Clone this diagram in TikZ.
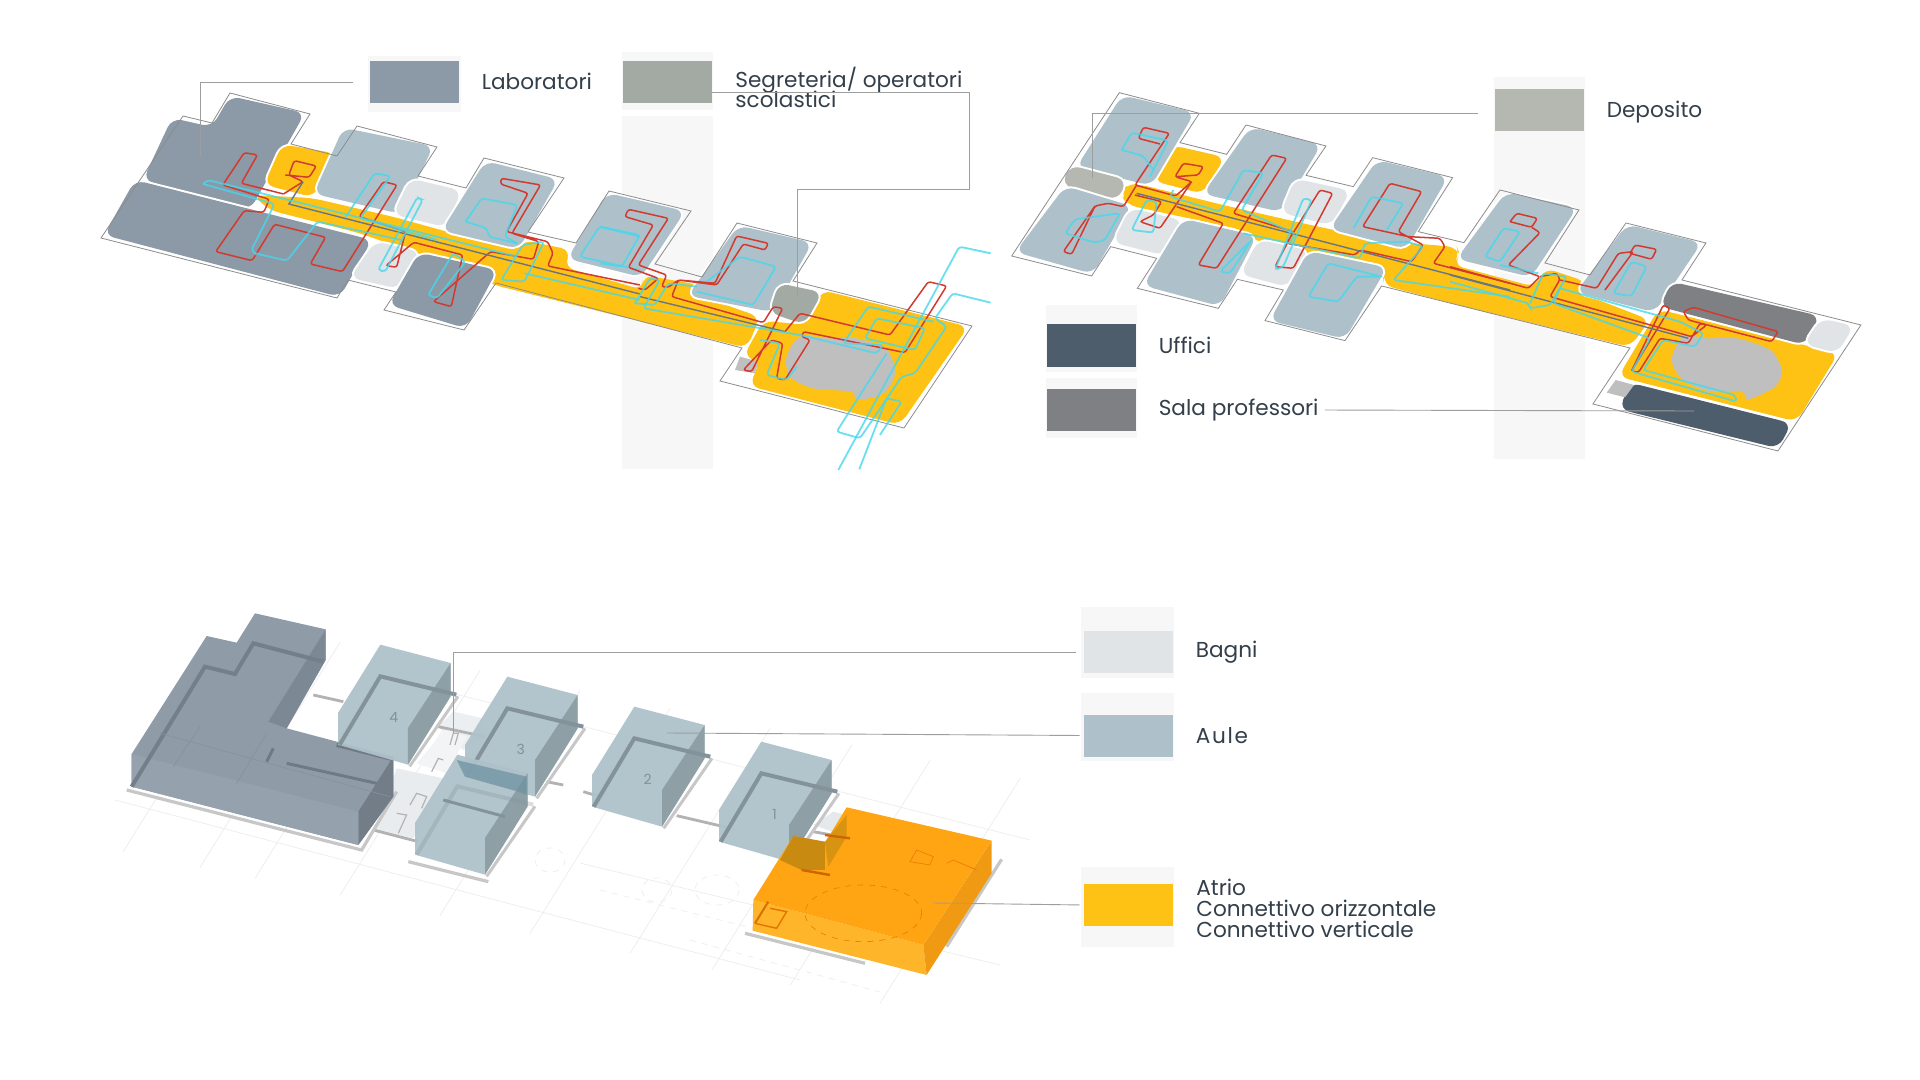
\documentclass[tikz,border=0pt]{standalone}
\usepackage{fontspec}
\setmainfont{Poppins}
\usetikzlibrary{positioning,calc}
\definecolor{labcol}{HTML}{8C99A6}
\definecolor{aulacol}{HTML}{AEC1CA}
\definecolor{bagcol}{HTML}{E0E4E7}
\definecolor{segcol}{HTML}{A3A9A3}
\definecolor{depcol}{HTML}{B5B8B0}
\definecolor{uffcol}{HTML}{4E5D6C}
\definecolor{salacol}{HTML}{7F8084}
\definecolor{atrcol}{HTML}{FDC214}
\definecolor{halocol}{HTML}{F7F7F7}
\definecolor{inkcol}{HTML}{333F4A}
\definecolor{redcol}{HTML}{D23A30}
\definecolor{cyancol}{HTML}{45D8EC}
\newcommand\legfont{\fontsize{10.8}{10.4}\selectfont\lineskiplimit=-10pt\relax}
\tikzset{
  frA/.style={shift={(80,40)},xscale=.357,yscale=.3333},
  frB/.style={shift={(600,180)},scale=.3333},
  frC/.style={shift={(1010,70)},scale=.3333},
  frD/.style={shift={(1450,210)},scale=.3333},
  room/.style={rounded corners=5pt,preaction={draw=white,line width=2pt}},
  outl/.style={draw=black!45,line width=.4pt},
  redl/.style={draw=redcol,line width=.75pt,rounded corners=1.2pt},
  darkl/.style={draw=uffcol!85,line width=.7pt},
  cyanl/.style={draw=cyancol,line width=.9pt,rounded corners=1.5pt,draw opacity=.8},
  leader/.style={draw=black!38,line width=.45pt},
  swatch/.style={inner sep=0pt,minimum width=44.5pt,minimum height=21pt},
  legtext/.style={inner sep=0pt,text=inkcol,font=\legfont,align=left},
  gridl/.style={draw=black!7,line width=.35pt},
  basel/.style={draw=black!22,line width=1.6pt},
  wallk/.style={draw=black!30,line width=1.4pt}
}
% room from its four rounded extremes: corners pushed out along the diagonals
\newcommand\quadroom[5]{\path[room,fill=#1] ($(#4)!1.05!(#2)$) -- ($(#5)!1.05!(#3)$) -- ($(#2)!1.05!(#4)$) -- ($(#3)!1.05!(#5)$) -- cycle;}
\newcommand\aulablock[4]{
  \begin{scope}[shift={(#1,#2)},scale=.3333]
    \draw[basel,line width=1.5pt] (215,160) -- (360,-50);
    \fill[aulacol,fill opacity=.95] (0,0) -- (127,-205) -- (338,-150) -- (338,-50) -- (210,155) -- (0,95) -- cycle;
    \fill[black!20!aulacol,fill opacity=.9] (210,45) -- (338,-150) -- (338,-50) -- (210,155) -- cycle;
    \draw[draw=black!24!aulacol,line width=2pt,draw opacity=#4] (5,95) -- (127,-110) -- (355,-55);
    \node[text=black!25!aulacol,font=\fontsize{7}{7}\selectfont,inner sep=0pt] at (167,12) {#3};
  \end{scope}
}
\begin{document}
\begin{tikzpicture}[x=.5pt,y=-.5pt]
\useasboundingbox (0,0) rectangle (1920,1080);
\fill[white] (0,0) rectangle (1920,1080);
% legend columns
\fill[halocol] (622,52) rectangle (713,469);
\fill[white] (622,110) rectangle (713,116);
\fill[halocol] (1494,77) rectangle (1585,459);
\fill[halocol] (368,56) rectangle (461,112);
\fill[halocol] (1046,305) rectangle (1137,372);
\fill[halocol] (1046,378) rectangle (1137,438);
\fill[halocol] (1081,607) rectangle (1174,678);
\fill[halocol] (1081,693) rectangle (1174,761);
\fill[halocol] (1081,867) rectangle (1174,947);
% plan A
\path[room,fill=labcol] (172,118) -- (212,127) -- (230,96) -- (305,113) -- (250,210) -- (143,180) -- cycle;
\path[room,fill=labcol] (135,180) -- (372,240) -- (340,297) -- (104,235) -- cycle;
\fill[atrcol,rounded corners=5pt] (253,195) -- (312,198) -- (394,217) -- (448,232) -- (517,248) -- (523,240) -- (571,250) -- (564,267) -- (643,290) -- (643,275) -- (700,285) -- (692,293) -- (760,317) -- (747,348) -- (494,285) -- (416,253) -- (359,233) -- (269,210) -- cycle;
\begin{scope}[frA]
  \quadroom{atrcol}{570,320}{710,345}{650,465}{525,430}
  \quadroom{aulacol}{745,275}{975,325}{890,510}{670,455}
  \quadroom{bagcol}{930,422}{1060,455}{1020,555}{885,520}
  \quadroom{aulacol}{1140,375}{1325,425}{1225,615}{1028,565}
  \quadroom{aulacol}{1480,470}{1680,520}{1568,700}{1380,650}
  \quadroom{bagcol}{830,610}{945,640}{890,740}{765,710}
  \quadroom{labcol}{955,648}{1155,695}{1075,855}{878,790}
\end{scope}
\begin{scope}[frB]
  \fill[atrcol,rounded corners=5pt] (490,422) -- (620,435) -- (665,330) -- (1105,440) -- (900,735) -- (448,618) -- (480,545) -- (430,530) -- cycle;
  \quadroom{aulacol}{420,148}{620,195}{515,385}{280,340}
  \quadroom{segcol}{540,315}{660,340}{610,428}{515,395}
  \fill[black!25] (420,530) -- (475,545) -- (465,580) -- (405,570) -- cycle;
  \fill[black!25] plot[smooth cycle] coordinates {(600,470) (680,475) (770,475) (860,510) (885,580) (850,640) (770,660) (755,635) (640,625) (570,590) (560,530)};
\end{scope}
\draw[outl] (101,238) -- (183,116) -- (212,123) -- (230,93) -- (310,114) -- (291,144) -- (337,156) -- (357,126) -- (437,147) -- (418,176) -- (466,188) -- (484,158) -- (564,178) -- (528,232) -- (576,243) -- (609,191) -- (691,211) -- (655,264) -- (702,277) -- (737,223) -- (817,243) -- (793,281) -- (972,326) -- (904,428) -- (720,381) -- (742,348) -- (496,283) -- (464,330) -- (384,310) -- (396,292) -- (348,280) -- (337,298) -- cycle;
\begin{scope}[frA]
  \draw[redl] (570,462) -- (452,430) -- (497,345) -- (460,338) -- (400,435) -- (530,478) -- (515,517) -- (460,512) -- (380,635) -- (482,662) -- (545,553) -- (688,592) -- (645,672) -- (735,695) -- (888,435) -- (850,425) -- (782,530) -- (912,575) -- (887,682) -- (857,677) -- (935,607) -- (1072,645) -- (1040,800) -- (990,785) -- (1150,635) -- (1270,658) -- (1285,605) -- (1210,580) -- (1290,435) -- (1180,415) -- (1178,432) -- (1255,460) -- (1195,575) -- (1310,605) -- (1325,640) -- (1310,678) -- (1568,735);
  \draw[redl] (570,462) -- (625,425) -- (585,405) -- (600,362) -- (662,378) -- (642,412) -- (575,405);
  \draw[darkl] (625,425) -- (585,492) -- (1568,762);
  \draw[cyanl] (345,432) -- (358,420) -- (1225,650);
  \draw[cyanl] (345,432) -- (545,492) -- (480,630) -- (490,640) -- (580,662) -- (665,545) -- (900,600);
  \draw[cyanl] (745,530) -- (825,400) -- (870,408) -- (785,535) -- (1000,600);
  \draw[cyanl] (835,690) -- (945,472) -- (960,480) -- (855,695) -- cycle;
  \draw[cyanl] (975,765) -- (1045,640) -- (1080,665) -- (1000,775) -- cycle;
  \draw[cyanl] (1080,545) -- (1125,475) -- (1225,495) -- (1190,590) -- (1225,610);
  \draw[cyanl] (1080,545) -- (1140,565) -- (1145,590) -- (1225,610);
  \draw[cyanl] (1180,720) -- (1240,615) -- (1300,605) -- (1245,725) -- cycle;
  \draw[cyanl] (1245,700) -- (1568,780);
  \draw[cyanl] (1568,590) -- (1455,560) -- (1400,650) -- (1568,690);
\end{scope}
\begin{scope}[frB]
  \draw[redl] (115,325) -- (135,330) -- (175,295) -- (85,262) -- (160,135) -- (75,110) -- (85,88) -- (205,115) -- (115,255) -- (200,285) -- (185,320) -- (205,322) -- (235,300) -- (345,310) -- (410,168) -- (505,190) -- (495,210) -- (430,192) -- (350,315) -- (235,300) -- (215,350) -- (490,428) -- (520,380) -- (548,385) -- (455,575) -- (430,570) -- (515,480) -- (548,490) -- (530,595) -- (555,600) -- (630,480) -- (605,470) -- (610,455) -- (915,518) -- (1040,318) -- (985,305) -- (870,465) -- (600,400) -- (555,455);
  \draw[darkl] (120,350) -- (555,455);
  \draw[cyanl] (0,250) -- (65,260) -- (120,165) -- (0,140);
  \draw[cyanl] (290,335) -- (460,375) -- (528,260) -- (420,230) -- (320,305);
  \draw[cyanl] (105,370) -- (165,375) -- (205,310) -- (290,320);
  \draw[cyanl] (105,370) -- (150,295) -- (180,300) -- (130,385) -- (600,465) -- (830,520) -- (850,495) -- (730,490) -- (805,380) -- (1000,425);
  \draw[cyanl] (480,480) -- (540,490) -- (500,585) -- (560,600) -- (590,560);
  \draw[cyanl] (795,475) -- (830,415) -- (975,445) -- (945,510) -- cycle;
  \draw[cyanl] (1172,220) -- (1078,200) -- (715,870);
  \draw[cyanl] (1172,368) -- (1058,340) -- (1005,415) -- (1040,440) -- (945,580) -- (905,590) -- (780,775) -- (710,755) -- (860,520);
  \draw[cyanl] (778,868) -- (860,655) -- (905,665) -- (840,765);
\end{scope}
% plan B
\fill[atrcol,rounded corners=5pt] (1120,193) -- (1130,182) -- (1223,205) -- (1297,222) -- (1357,235) -- (1408,243) -- (1457,247) -- (1460,255) -- (1453,265) -- (1535,287) -- (1545,268) -- (1587,282) -- (1578,292) -- (1650,320) -- (1630,347) -- (1450,303) -- (1383,285) -- (1385,273) -- (1253,240) -- (1243,230) -- (1127,205) -- cycle;
\begin{scope}[frC]
  \quadroom{atrcol}{490,232}{635,265}{575,365}{440,330}
  \quadroom{aulacol}{340,88}{538,135}{420,335}{215,285}
  \path[room,fill=depcol] (180,285) -- (350,330) -- (325,390) -- (155,345) -- cycle;
  \quadroom{aulacol}{170,360}{350,415}{245,600}{32,540}
  \quadroom{bagcol}{365,420}{510,455}{460,550}{318,515}
  \quadroom{aulacol}{725,183}{918,230}{810,415}{595,365}
  \quadroom{bagcol}{860,332}{1012,365}{960,460}{822,425}
  \quadroom{aulacol}{1105,282}{1298,328}{1185,525}{975,470}
  \quadroom{aulacol}{525,458}{725,505}{625,697}{415,640}
  \quadroom{bagcol}{750,515}{888,545}{830,645}{700,610}
  \quadroom{aulacol}{900,555}{1115,600}{1000,795}{795,745}
\end{scope}
\begin{scope}[frD]
  \quadroom{aulacol}{171,-42}{365,0}{240,190}{36,140}
  \quadroom{aulacol}{535,55}{738,105}{610,295}{395,240}
  \fill[atrcol,rounded corners=5pt] (625,298) -- (1165,430) -- (1040,635) -- (505,500) -- cycle;
  \path[room,fill=salacol] (665,215) -- (1110,318) -- (1065,405) -- (630,290) -- cycle;
  \quadroom{bagcol}{1115,330}{1205,350}{1160,425}{1068,400}
  \path[room,fill=uffcol] (540,518) -- (1025,640) -- (985,715) -- (508,598) -- cycle;
  \fill[black!25] (497,510) -- (552,525) -- (525,562) -- (470,548) -- cycle;
  \fill[black!25] plot[smooth cycle] coordinates {(700,380) (775,385) (860,385) (960,420) (995,480) (975,530) (895,568) (875,545) (780,545) (700,510) (665,450)};
\end{scope}
\begin{scope}[frC]
  \draw[outl] (5,558) -- (328,68) -- (568,130) -- (510,218) -- (650,253) -- (708,165) -- (948,228) -- (888,316) -- (1030,350) -- (1088,263) -- (1328,323) -- (1225,485) -- (1362,518) -- (1470,360) -- (1707,420) -- (1605,579) -- (1740,615) -- (1848,459) -- (2088,519) -- (2016,630) -- (2553,765) -- (2304,1143) -- (1749,1002) -- (1860,834) -- (1115,648) -- (1005,812) -- (765,752) -- (820,660) -- (682,628) -- (625,715) -- (382,655) -- (440,565) -- (302,530) -- (245,618) -- cycle;
  \draw[redl] (450,222) -- (385,205) -- (400,172) -- (478,190) -- (375,345) -- (497,378) -- (545,335) -- (495,320) -- (520,280) -- (580,290) -- (565,315) -- (498,320);
  \draw[redl] (380,345) -- (340,410) -- (295,400) -- (255,408) -- (185,553) -- (160,545) -- (255,408);
  \draw[redl] (375,375) -- (455,395) -- (430,435) -- (390,455) -- (450,475) -- (545,335);
  \draw[redl] (500,410) -- (640,460) -- (565,585) -- (620,595) -- (830,265) -- (785,255) -- (670,430) -- (850,485) -- (795,590) -- (850,595) -- (968,370) -- (930,360) -- (830,520) -- (1035,555) -- (1050,540) -- (1205,575) -- (1240,525) -- (1165,485) -- (1235,365) -- (1140,340) -- (1058,470) -- (1195,500) -- (1290,505) -- (1305,530) -- (1270,580) -- (1500,640);
  \draw[darkl] (380,370) -- (1500,660);
  \draw[cyanl] (335,240) -- (365,188) -- (475,212) -- (420,320);
  \draw[cyanl] (335,240) -- (400,258) -- (430,300);
  \draw[cyanl] (165,490) -- (195,448) -- (330,430) -- (285,510) -- (255,518) -- cycle;
  \draw[cyanl] (365,480) -- (410,390) -- (440,395) -- (430,488) -- cycle;
  \draw[cyanl] (490,360) -- (480,380) -- (630,425) -- (700,300) -- (760,310) -- (695,420) -- (855,490) -- (840,520);
  \draw[cyanl] (795,600) -- (880,385) -- (905,390) -- (820,590) -- cycle;
  \draw[cyanl] (630,605) -- (725,510) -- (660,610) -- cycle;
  \draw[cyanl] (1030,475) -- (1085,380) -- (1180,400) -- (1130,480);
  \draw[cyanl] (895,680) -- (955,580) -- (1115,620) -- (1040,620) -- (985,695) -- cycle;
  \draw[cyanl] (700,490) -- (1050,565) -- (1065,520) -- (1190,515) -- (1240,530) -- (1150,630) -- (1500,680);
\end{scope}
\begin{scope}[frD]
  \draw[redl] (180,35) -- (200,10) -- (262,25) -- (245,52) -- (180,35);
  \draw[redl] (245,52) -- (270,68) -- (175,165) -- (270,200) -- (235,235) -- (0,170);
  \draw[redl] (270,200) -- (320,190) -- (330,208) -- (300,260) -- (725,380) -- (770,345) -- (750,340) -- (715,400) -- (630,385) -- (565,488) -- (545,482) -- (660,295) -- (640,285) -- (545,482);
  \draw[redl] (700,305) -- (730,292) -- (985,365) -- (965,395) -- (715,330) -- cycle;
  \draw[redl] (330,210) -- (440,235) -- (505,130) -- (550,125) -- (465,240);
  \draw[redl] (540,130) -- (555,105) -- (620,118) -- (605,148) -- (540,130);
  \draw[darkl] (0,195) -- (715,385);
  \draw[cyanl] (105,140) -- (160,55) -- (210,65) -- (150,155) -- cycle;
  \draw[cyanl] (150,165) -- (265,190);
  \draw[cyanl] (490,250) -- (545,155) -- (590,170) -- (545,258) -- cycle;
  \draw[cyanl] (0,215) -- (235,280) -- (240,295) -- (300,285) -- (350,200) -- (280,190) -- (240,280);
  \draw[cyanl] (330,235) -- (310,280) -- (600,385) -- (545,485) -- (860,575) -- (855,555) -- (580,480) -- (640,390) -- (735,410) -- (760,370) -- (690,335) -- (330,235);
\end{scope}
% bottom drawing
\foreach \lx in {123,200,255,340,440,530,630,712,790,880}
  {\draw[gridl] (\lx,{852+(\lx-123)*.2}) -- +(140,-225);}
\draw[gridl] (115,800) -- (800,980);
\draw[gridl] (400,680) -- (1030,840);
\draw[gridl] (580,863) -- (1000,965);
\draw[gridl,dashed] (690,940) -- (880,992);
\draw[gridl,dashed] (600,890) -- (760,930);
\draw[gridl,dashed] (657,890) ellipse (15 and 12);
\draw[gridl,dashed] (717,890) ellipse (22 and 15);
\draw[gridl,dashed] (550,860) ellipse (15 and 12);
\begin{scope}[shift={(110,600)},scale=.3333]
  \fill[bagcol!60] (985,380) -- (1030,335) -- (1120,355) -- (1120,420) -- (1060,450) -- cycle;
  \fill[bagcol!40] (920,490) -- (1010,385) -- (1070,410) -- (1010,520) -- cycle;
  \fill[bagcol!70] (860,505) -- (1000,535) -- (910,715) -- (795,690) -- cycle;
  \draw[wallk] (985,380) -- (1125,410);
  \draw[wallk] (790,690) -- (925,725);
  \draw[wallk] (610,285) -- (700,305);
  \draw[wallk] (1310,545) -- (1360,555);
  \draw[wallk] (1420,575) -- (1470,590);
  \draw[wallk,line width=.6pt] (1020,435) -- (1030,400) -- (1045,400) -- (1035,435);
  \draw[wallk,line width=.6pt] (965,515) -- (985,475) -- (1000,480);
  \draw[wallk,line width=.6pt] (900,615) -- (920,580) -- (950,590) -- (935,625);
  \draw[wallk,line width=.6pt] (865,700) -- (890,645) -- (860,640);
  \draw[basel] (50,570) -- (755,750) -- (860,575);
  \fill[labcol,fill opacity=.97] (65,462) -- (290,108) -- (380,128) -- (435,40) -- (647,88) -- (647,180) -- (530,385) -- (850,470) -- (850,590) -- (745,735) -- (65,560) -- cycle;
  \fill[black!12!labcol,fill opacity=.9] (475,365) -- (647,88) -- (647,180) -- (530,385) -- cycle;
  \fill[black!18!labcol] (745,635) -- (850,470) -- (850,590) -- (745,735) -- cycle;
  \fill[white!8!labcol] (65,462) -- (745,635) -- (745,735) -- (65,560) -- cycle;
  \draw[draw=black!17!labcol,line width=2pt] (65,560) -- (285,200) -- (375,222) -- (430,130) -- (640,185);
  \draw[draw=black!20!labcol,line width=2pt] (680,435) -- (850,478);
  \draw[draw=black!20!labcol,line width=1.5pt] (530,490) -- (800,550);
  \draw[draw=black!20!labcol,line width=1.5pt] (490,445) -- (470,485);
  \draw[draw=black!5!labcol,line width=.3pt] (150,400) -- (840,590);
  \draw[draw=black!5!labcol,line width=.3pt] (190,500) -- (270,380);
  \draw[draw=black!5!labcol,line width=.3pt] (380,550) -- (470,400);
\end{scope}
\begin{scope}[shift={(580,700)},scale=.3333]
  \fill[bagcol!80] (700,375) -- (760,335) -- (800,345) -- (800,410) -- cycle;
  \draw[wallk] (290,347) -- (440,382);
  \draw[wallk] (700,395) -- (810,415);
  \draw[basel] (1265,478) -- (1100,740);
  \draw[basel] (495,700) -- (855,790);
\end{scope}
\aulablock{338}{713}{4}{1}
\aulablock{465}{745}{3}{1}
\begin{scope}[shift={(110,600)},scale=.3333]
  \draw[basel] (895,785) -- (1135,845);
\end{scope}
\aulablock{415}{823}{}{.3}
\aulablock{592}{775}{2}{1}
\aulablock{719}{810}{1}{1}
\begin{scope}[shift={(110,600)},scale=.3333]
  \fill[color={rgb,255:red,111;green,147;blue,163},fill opacity=.75] (1040,480) -- (1250,530) -- (1250,585) -- (1225,575) -- (1065,530) -- cycle;
  \draw[draw=black!24!aulacol,line width=1.5pt] (1000,600) -- (1185,650);
\end{scope}
\begin{scope}[shift={(580,700)},scale=.3333]
  \fill[color={rgb,255:red,255;green,181;blue,42}] (520,600) -- (1030,735) -- (1040,825) -- (518,692) -- cycle;
  \fill[color={rgb,255:red,240;green,154;blue,20}] (1030,735) -- (1235,422) -- (1235,520) -- (1040,825) -- cycle;
  \fill[color={rgb,255:red,255;green,165;blue,20}] (520,600) -- (640,408) -- (735,428) -- (800,322) -- (1235,422) -- (1030,735) -- cycle;
  \fill[color={rgb,255:red,200;green,138;blue,16}] (640,408) -- (735,425) -- (735,510) -- (665,510) -- (600,480) -- cycle;
  \fill[color={rgb,255:red,216;green,148;blue,16}] (735,425) -- (800,345) -- (800,410) -- (745,500) -- cycle;
  \draw[draw=black!7!orange,line width=.3pt,dashed] (850,640) ellipse (175 and 85);
  \draw[draw=black!7!orange,line width=.3pt] (990,485) -- (1010,450) -- (1060,470) -- (1050,495) -- cycle;
  \draw[draw=black!7!orange,line width=.3pt] (1100,490) -- (1120,480) -- (1190,510);
  \draw[draw=black!14!orange,line width=1pt] (525,670) -- (565,605);
  \draw[draw=black!10!orange,line width=.7pt] (525,670) -- (590,685) -- (620,635) -- (570,625);
  \draw[draw=black!20!orange,line width=1.2pt] (665,510) -- (750,525);
  \draw[draw=black!20!orange,line width=1.2pt] (735,405) -- (810,415);
\end{scope}
% legend
\node[swatch,fill=labcol] (swLab) at (414.5,82) {};
\node[legtext,right=11pt of swLab,yshift=.5pt] (txtLab) {Laboratori};
\node[swatch,fill=segcol] (swSeg) at (667.5,82) {};
\node[legtext,anchor=west] (txtSeg) at (735,87.5) {Segreteria/ operatori\\scolastici};
\node[swatch,fill=depcol] (swDep) at (1539.5,110) {};
\node[legtext,right=11pt of swDep,yshift=-1pt] (txtDep) {Deposito};
\node[swatch,fill=uffcol] (swUff) at (1091.5,345.5) {};
\node[legtext,right=11pt of swUff] (txtUff) {Uffici};
\node[swatch,fill=salacol] (swSala) at (1091.5,410) {};
\node[legtext,right=11pt of swSala] (txtSala) {Sala professori};
\node[swatch,fill=bagcol] (swBag) at (1128.5,652) {};
\node[legtext,right=11pt of swBag] (txtBag) {Bagni};
\node[swatch,fill=aulacol] (swAule) at (1128.5,735.5) {};
\node[legtext,right=11pt of swAule] (txtAule) {\addfontfeature{LetterSpace=8}Aule};
\node[swatch,fill=atrcol] (swAtr) at (1128.5,905) {};
\node[legtext,anchor=west] (txtAtr) at (1196,908.5) {Atrio\\Connettivo orizzontale\\Connettivo verticale};
% leaders
\coordinate (labEnd) at (200,157);
\coordinate (segTurn) at (969,189);
\coordinate (segEnd) at (797,295);
\coordinate (depEnd) at (1092,178);
\coordinate (salaEnd) at (1694,411);
\coordinate (bagEnd) at (453,733);
\coordinate (auleEnd) at (667,733);
\coordinate (atrEnd) at (933,903);
\draw[leader,shorten <=8.5pt] (swLab.west) -| (labEnd);
\draw[leader] ([yshift=-5pt]swSeg.east) -| (segTurn) -| (segEnd);
\draw[leader,shorten <=8.5pt] ([yshift=-1.5pt]swDep.west) -| (depEnd);
\draw[leader,shorten <=3pt] (txtSala.east) -- (salaEnd);
\draw[leader,shorten <=4pt] (swBag.west) -| (bagEnd);
\draw[leader,shorten <=2pt] (swAule.west) -- (auleEnd);
\draw[leader,shorten <=2pt] (swAtr.west) -- (atrEnd);
\end{tikzpicture}
\end{document}
